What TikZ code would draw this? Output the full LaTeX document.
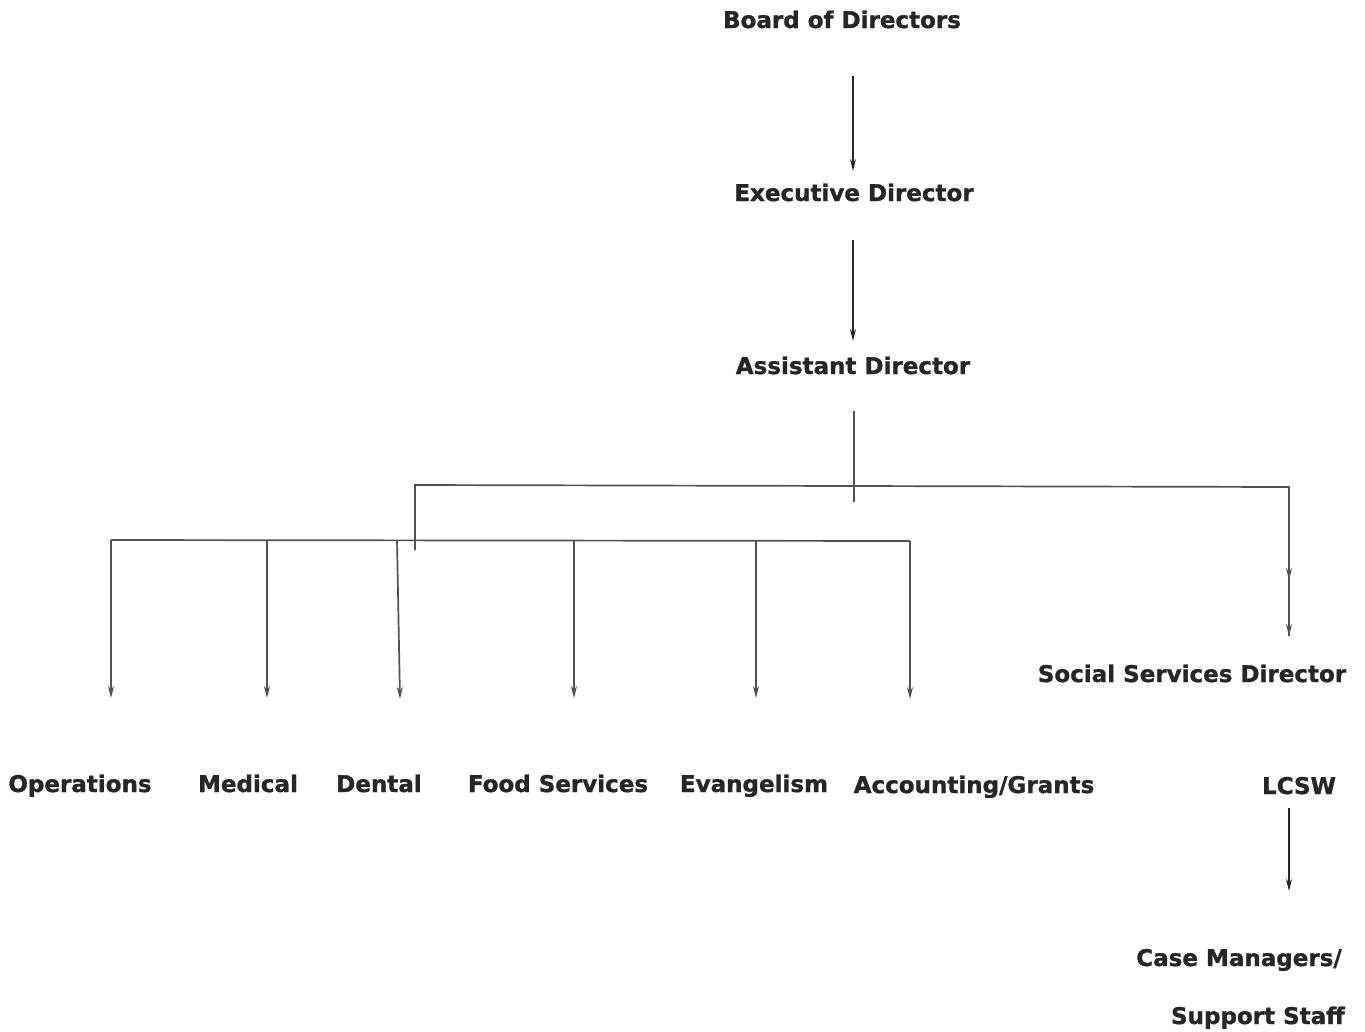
\documentclass[tikz,border=0pt]{standalone}
\usepackage{fontspec}
\setmainfont{DejaVu Sans}[BoldFeatures={FakeBold=1.2}]
\usetikzlibrary{arrows.meta}
\begin{document}
\begin{tikzpicture}[x=1pt,y=-1pt,
  lbl/.style={inner sep=0pt,font=\bfseries\fontsize{23}{27}\selectfont,text=black!85},
  ln/.style={draw=black!68,line width=1.7pt},
  arr/.style={ln,-{Stealth[length=12pt,width=6pt]}}]
\useasboundingbox[fill=white] (0,0) rectangle (1365,1031);
% nodes
\node[lbl,anchor=base] (board) at (842,28) {Board of Directors};
\node[lbl,anchor=base] (exec) at (854,201) {Executive Director};
\node[lbl,anchor=base] (asst) at (853,374) {Assistant Director};
\node[lbl,anchor=base] (ssd) at (1192,682) {Social Services Director};
\node[lbl,anchor=base] (ops) at (80,792) {Operations};
\node[lbl,anchor=base] (med) at (248,792) {Medical};
\node[lbl,anchor=base] (den) at (379,792) {Dental};
\node[lbl,anchor=base] (food) at (558,792) {Food Services};
\node[lbl,anchor=base] (evan) at (754,792) {Evangelism};
\node[lbl,anchor=base] (acct) at (974,793) {Accounting/Grants};
\node[lbl,anchor=base] (lcsw) at (1299,794) {LCSW};
\node[lbl,anchor=base east] (case) at (1342,966) {Case Managers/};
\node[lbl,anchor=base east] (supp) at (1345,1024) {Support Staff};
% coordinates
\coordinate (b1) at (853,76);  \coordinate (e1) at (853,171);
\coordinate (b2) at (853,240); \coordinate (e2) at (853,341);
\coordinate (a1) at (854,411); \coordinate (a2) at (854,502);
\coordinate (hL) at (415,485); \coordinate (hR) at (1289,487);
\coordinate (hD) at (415,550);
\coordinate (sm) at (1289,580); \coordinate (se) at (1289,636);
\coordinate (lL) at (111,540); \coordinate (lR) at (910,541);
\coordinate (l1) at (1289,808); \coordinate (l2) at (1289,891);
% connectors
\draw[arr,draw=black!85] (b1) -- (e1);
\draw[arr,draw=black!85] (b2) -- (e2);
\draw[ln] (a1) -- (a2);
\draw[ln] (hD) -- (hL) -- (hR) -- (se);
\draw[arr] (hR) -- (sm);
\draw[arr] (sm) -- (se);
\draw[ln] (lL) -- (lR);
\draw[arr] (lL) -- (111,698);
\draw[arr] (267,540) -- (267,698);
\draw[arr] (397,540) -- (400,699);
\draw[arr] (574,540) -- (574,698);
\draw[arr] (756,541) -- (756,698);
\draw[arr] (lR) -- (910,699);
\draw[arr,draw=black!85] (l1) -- (l2);
\end{tikzpicture}
\end{document}
